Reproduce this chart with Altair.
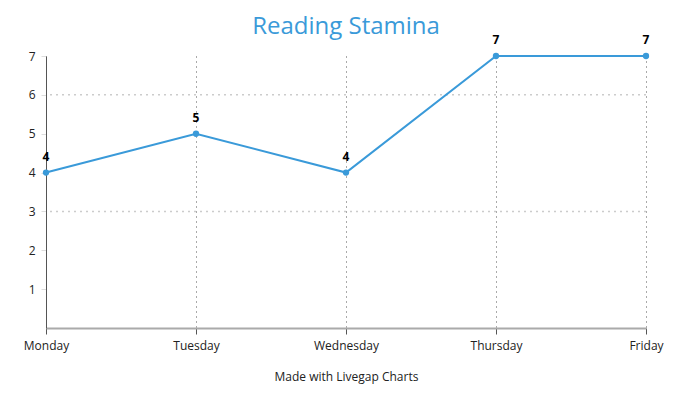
import altair as alt
import pandas as pd

days = ["Monday", "Tuesday", "Wednesday", "Thursday", "Friday"]
values = [4, 5, 4, 7, 7]
grid_values = [3, 6]
y_ticks = [1, 2, 3, 4, 5, 6, 7]

df = pd.DataFrame({"day": days, "value": values})
gdf = pd.DataFrame({"g": grid_values})

COLOR = "#3a9ad9"
FONT = "Open Sans"

x = alt.X("day:N", sort=days, scale=alt.Scale(type="point", padding=0),
          axis=alt.Axis(title="Made with Livegap Charts", titleFontWeight="normal",
                        titleFontSize=12, titleColor="#222", titlePadding=20,
                        labelAngle=0, labelFontSize=12, labelColor="#222", labelPadding=6,
                        grid=True, gridDash=[1, 4], gridColor="#555", gridOpacity=1,
                        domainColor="#aaaaaa", domainWidth=2, tickColor="#555", tickSize=6,
                        labelFont=FONT, titleFont=FONT))
y = alt.Y("value:Q", scale=alt.Scale(domain=[0, 7], nice=False),
          axis=alt.Axis(title=None, values=y_ticks, grid=False, labelFontSize=12,
                        labelColor="#222", labelFont=FONT, domainColor="#555",
                        tickColor="#dddddd", tickSize=5, labelPadding=6))

grid = alt.Chart(gdf).mark_rule(color="#cccccc", strokeDash=[2, 4], strokeWidth=1.5).encode(
    y=alt.Y("g:Q", scale=alt.Scale(domain=[0, 7], nice=False))
)
line = alt.Chart(df).mark_line(color=COLOR, strokeWidth=2).encode(x=x, y=y)
pts = alt.Chart(df).mark_circle(color=COLOR, size=40, opacity=1).encode(x=x, y=y)
labels = alt.Chart(df).mark_text(dy=-16, fontWeight="bold", fontSize=12, font=FONT,
                                 color="#000").encode(x=x, y=y, text="value:Q")

chart = alt.layer(grid, line, pts, labels).properties(
    width=600, height=272,
    title=alt.TitleParams("Reading Stamina", fontSize=24, font=FONT, fontWeight="normal",
                          color=COLOR, anchor="middle", offset=-5),
    padding={"left": 38, "top": 48, "right": 39, "bottom": 57},
    autosize=alt.AutoSizeParams(type="none"),
).configure_view(stroke=None)

chart.save("out.html", embed_options={"renderer": "svg", "actions": False})
